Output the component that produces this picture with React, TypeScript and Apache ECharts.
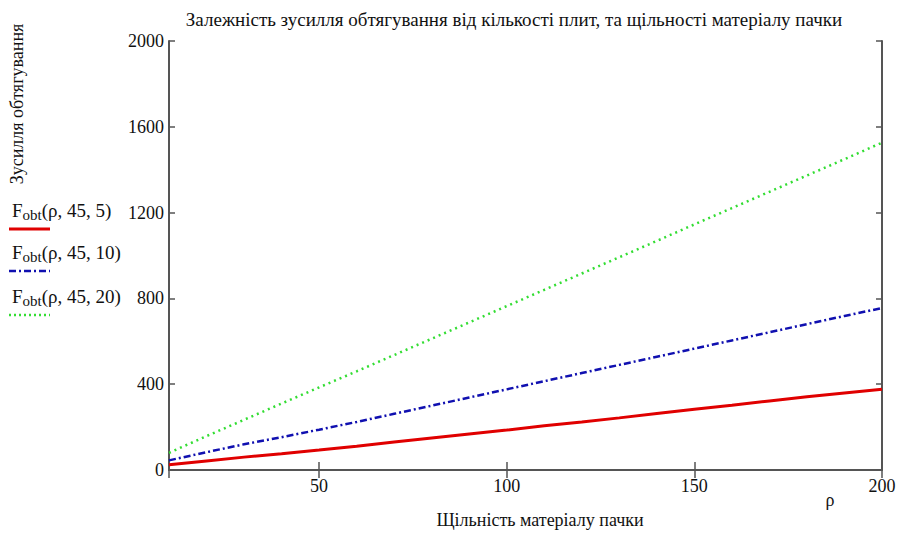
import React, { useEffect, useRef } from "react";
import * as echarts from "echarts";

const rho = [10, 20, 30, 40, 50, 60, 70, 80, 90, 100, 110, 120, 130, 140, 150, 160, 170, 180, 190, 200];
const f5 = [24, 42, 60, 76, 93, 111, 130, 149, 168, 186, 206, 224, 243, 263, 283, 302, 322, 341, 359, 377];
const f10 = [45, 83, 120, 153, 188, 224, 262, 300, 338, 376, 414, 452, 490, 528, 566, 604, 642, 680, 718, 755];
const f20 = [80, 158, 234, 310, 385, 460, 536, 612, 688, 764, 840, 916, 992, 1068, 1145, 1221, 1297, 1373, 1449, 1526];

const seriesNames = ["F(ρ,45,5)", "F(ρ,45,10)", "F(ρ,45,20)"];
const legendArgs = ["(ρ, 45, 5)", "(ρ, 45, 10)", "(ρ, 45, 20)"];

const title = "Залежність зусилля обтягування від кількості плит, та щільності матеріалу пачки";
const yName = "Зусилля обтягування";
const xName = "Щільність матеріалу пачки";

const FONT = "'Liberation Serif', 'DejaVu Serif', serif";

export default function App() {
  const ref = useRef<HTMLDivElement>(null);
  useEffect(() => {
    if (!ref.current) return;
    const chart = echarts.init(ref.current, null, { renderer: "svg" });
    const pair = (ys: number[]) => rho.map((x, i) => [x, ys[i]]);
    const axisLine = { show: true, lineStyle: { color: "#555", width: 2 } };
    const legendColors = ["#e00000", "#1010b0", "#33dd33"];
    const legendDash: any[] = [null, [7, 3, 2, 3], [2, 3]];
    const legendY = [210, 252, 296];
    const graphics: any[] = [
      {
        type: "text",
        x: 514,
        y: 19,
        style: { text: title, font: `19px ${FONT}`, fill: "#111", align: "center", verticalAlign: "middle" },
      },
      {
        type: "text",
        x: 17,
        y: 104,
        rotation: Math.PI / 2,
        style: { text: yName, font: `18px ${FONT}`, fill: "#111", align: "center", verticalAlign: "middle" },
      },
      {
        type: "text",
        x: 540,
        y: 520,
        style: { text: xName, font: `18px ${FONT}`, fill: "#111", align: "center", verticalAlign: "middle" },
      },
      {
        type: "text",
        x: 830,
        y: 500,
        style: { text: "ρ", font: `18px ${FONT}`, fill: "#111", align: "center", verticalAlign: "middle" },
      },
    ];
    legendArgs.forEach((arg, i) => {
      graphics.push({
        type: "text",
        x: 12,
        y: legendY[i],
        style: {
          text: `{f|F}{s|obt}{a|${arg}}`,
          fill: "#111",
          verticalAlign: "middle",
          rich: {
            f: { font: `19px ${FONT}`, fill: "#111" },
            s: { font: `15px ${FONT}`, fill: "#111", padding: [9, 0, 0, 0] },
            a: { font: `19px ${FONT}`, fill: "#111" },
          },
        },
      });
      graphics.push({
        type: "line",
        shape: { x1: 9, y1: legendY[i] + 19, x2: 50, y2: legendY[i] + 19 },
        style: { stroke: legendColors[i], lineWidth: i === 0 ? 3 : 2.5, lineDash: legendDash[i] },
      });
    });
    chart.setOption({
      animation: false,
      backgroundColor: "#fff",
      grid: { left: 169, right: 17, top: 41, bottom: 63 },
      xAxis: [
        {
          type: "value",
          min: 10,
          max: 200,
          splitNumber: 4,
          position: "bottom",
          axisLine,
          axisTick: { show: true, inside: true, length: 8, lineStyle: { color: "#555", width: 1.5 } },
          axisLabel: {
            color: "#111",
            fontFamily: FONT,
            fontSize: 18,
            margin: 7,
            showMinLabel: false,
            formatter: (v: number) => (v % 50 === 0 ? String(v) : ""),
          },
          splitLine: { show: false },
        },
        {
          type: "value",
          min: 10,
          max: 200,
          splitNumber: 4,
          position: "top",
          axisLine,
          axisTick: { show: true, inside: true, length: 8, lineStyle: { color: "#555", width: 1.5 } },
          axisLabel: { show: false },
          splitLine: { show: false },
        },
      ],
      yAxis: [
        {
          type: "value",
          min: 0,
          max: 2000,
          interval: 400,
          position: "left",
          axisLine,
          axisTick: { show: true, inside: true, length: 6, lineStyle: { color: "#555", width: 1.5 } },
          axisLabel: { color: "#111", fontFamily: FONT, fontSize: 18, margin: 5, formatter: (v: number) => String(v) },
          splitLine: { show: false },
        },
        {
          type: "value",
          min: 0,
          max: 2000,
          interval: 400,
          position: "right",
          axisLine,
          axisTick: { show: true, inside: true, length: 6, lineStyle: { color: "#555", width: 1.5 } },
          axisLabel: { show: false },
          splitLine: { show: false },
        },
      ],
      series: [
        {
          name: seriesNames[0],
          type: "line",
          data: pair(f5),
          showSymbol: false,
          lineStyle: { color: "#e00000", width: 3, type: "solid" },
        },
        {
          name: seriesNames[1],
          type: "line",
          data: pair(f10),
          showSymbol: false,
          lineStyle: { color: "#1010b0", width: 2.5, type: [7, 3, 2, 3] },
        },
        {
          name: seriesNames[2],
          type: "line",
          data: pair(f20),
          showSymbol: false,
          lineStyle: { color: "#33dd33", width: 2.5, type: [2, 4] },
        },
      ],
      graphic: graphics,
    });
    return () => chart.dispose();
  }, []);
  return <div ref={ref} style={{ width: 899, height: 533, position: "absolute", left: 0, top: 0 }} />;
}
